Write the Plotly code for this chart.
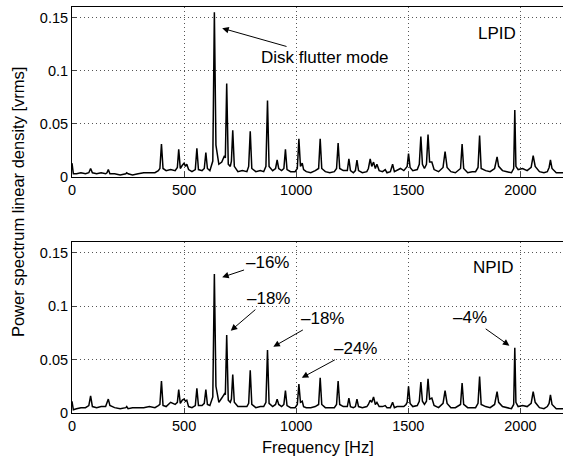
import plotly.graph_objs as go

# spectrum (Hz, vrms)
freq = [0, 6, 20, 40, 60, 75, 83, 91, 110, 130,
        150, 156, 162, 169, 190, 215, 240, 244, 250, 270,
        295, 320, 345, 370, 385, 392, 399, 406, 420, 440,
        460, 470, 476, 483, 492, 500, 506, 512, 520, 535,
        550, 557, 564, 580, 590, 597, 604, 615, 628, 635,
        642, 655, 668, 680, 684, 690, 697, 706, 711, 717,
        724, 740, 760, 780, 788, 795, 802, 820, 840, 855,
        865, 872, 879, 895, 908, 915, 922, 935, 945, 952,
        959, 975, 995, 1005, 1012, 1019, 1027, 1033, 1045, 1065,
        1085, 1100, 1107, 1114, 1130, 1150, 1170, 1180, 1187, 1194,
        1210, 1228, 1235, 1242, 1255, 1264, 1271, 1278, 1295, 1315,
        1322, 1330, 1337, 1345, 1353, 1360, 1370, 1385, 1397, 1405,
        1420, 1430, 1438, 1450, 1465, 1480, 1490, 1495, 1501, 1508,
        1520, 1540, 1549, 1556, 1563, 1572, 1581, 1588, 1595, 1605,
        1615, 1635, 1655, 1664, 1673, 1690, 1710, 1733, 1740, 1747,
        1765, 1785, 1800, 1811, 1818, 1825, 1845, 1865, 1885, 1896,
        1903, 1920, 1940, 1960, 1970, 1975, 1980, 1990, 2010, 2030,
        2048, 2057, 2066, 2085, 2105, 2120, 2128, 2134, 2141, 2160,
        2190]

lpid = [.013, .003, .003, .004, .003, .004, .008, .004, .003, .004,
        .003, .004, .007, .003, .003, .002, .003, .004, .003, .002,
        .003, .004, .004, .004, .006, .008, .031, .008, .006, .007,
        .006, .009, .026, .008, .011, .013, .010, .012, .007, .005,
        .007, .027, .007, .006, .008, .023, .008, .006, .015, .155,
        .030, .012, .014, .020, .018, .088, .012, .010, .015, .044,
        .010, .005, .006, .005, .010, .043, .008, .005, .006, .005,
        .010, .072, .010, .006, .008, .016, .008, .006, .008, .026,
        .007, .005, .005, .008, .036, .010, .013, .007, .005, .004,
        .006, .008, .036, .008, .005, .004, .005, .008, .032, .008,
        .006, .006, .017, .006, .004, .006, .016, .006, .004, .005,
        .008, .017, .010, .014, .008, .012, .006, .005, .007, .004,
        .005, .012, .005, .006, .008, .006, .009, .010, .022, .009,
        .006, .007, .012, .038, .012, .008, .012, .040, .014, .014,
        .007, .005, .009, .024, .009, .005, .004, .008, .031, .008,
        .004, .005, .005, .009, .039, .008, .006, .005, .008, .019,
        .010, .006, .005, .004, .008, .063, .010, .007, .008, .006,
        .009, .020, .010, .005, .004, .005, .009, .016, .008, .004,
        .004]

npid = [.011, .003, .004, .005, .005, .007, .016, .006, .005, .006,
        .006, .009, .013, .007, .005, .004, .005, .006, .004, .005,
        .005, .005, .006, .005, .007, .008, .030, .007, .006, .010,
        .008, .010, .022, .009, .012, .013, .011, .012, .006, .005,
        .007, .023, .007, .007, .009, .022, .008, .007, .015, .130,
        .025, .010, .014, .018, .017, .073, .012, .010, .013, .036,
        .010, .006, .006, .006, .009, .040, .008, .005, .006, .006,
        .010, .059, .009, .006, .008, .013, .008, .006, .008, .021,
        .007, .005, .005, .008, .027, .010, .011, .006, .005, .005,
        .006, .008, .033, .008, .005, .005, .005, .008, .030, .008,
        .006, .006, .014, .006, .005, .006, .013, .006, .005, .006,
        .008, .012, .010, .015, .008, .010, .006, .006, .007, .005,
        .005, .010, .005, .006, .006, .006, .008, .010, .025, .009,
        .006, .007, .011, .029, .011, .008, .011, .032, .013, .014,
        .007, .005, .009, .021, .009, .005, .005, .008, .028, .008,
        .005, .005, .005, .009, .034, .008, .006, .005, .008, .020,
        .010, .006, .005, .004, .008, .061, .010, .006, .007, .006,
        .009, .020, .010, .005, .004, .006, .009, .017, .008, .004,
        .004]

x_ticks = [0, 500, 1000, 1500, 2000]
y_ticks = [0, 0.05, 0.1, 0.15]
y_ticktext = ['0', '0.05', '0.1', '0.15']

# bottom-panel callouts: (label, peak f, peak v, text f, text v)
npid_notes = [
    ('\u201316%', 670, 0.127, 870, 0.141),
    ('\u201318%', 708, 0.077, 875, 0.107),
    ('\u201318%', 898, 0.062, 1116, 0.088),
    ('\u201324%', 1025, 0.033, 1263, 0.060),
    ('\u20134%', 1951, 0.063, 1776, 0.089),
]

FONT = 'Liberation Sans, Arial, sans-serif'

data = [
    go.Scatter(x=freq, y=lpid, mode='lines', xaxis='x', yaxis='y',
               line=dict(color='black', width=1.5), hoverinfo='none'),
    go.Scatter(x=freq, y=npid, mode='lines', xaxis='x2', yaxis='y2',
               line=dict(color='black', width=1.5), hoverinfo='none'),
]


def xax(anchor):
    return dict(range=[0, 2190], tickvals=x_ticks, ticks='inside', ticklen=5,
                showline=True, linecolor='black', linewidth=1, mirror=True,
                showgrid=True, gridcolor='#555', griddash='1px,3px', gridwidth=1,
                zeroline=False, anchor=anchor, automargin=False,
                tickfont=dict(size=14.5, color='black'))


def yax(anchor, domain):
    return dict(range=[0, 0.16], tickvals=y_ticks, ticktext=y_ticktext,
                ticks='inside', ticklen=5, domain=domain,
                showline=True, linecolor='black', linewidth=1, mirror=True,
                showgrid=True, gridcolor='#555', griddash='1px,3px', gridwidth=1,
                zeroline=False, anchor=anchor, automargin=False,
                tickfont=dict(size=14.5, color='black'))


annotations = [
    dict(text='LPID', x=1897, y=0.135, xref='x', yref='y', showarrow=False,
         font=dict(size=17)),
    dict(text='NPID', x=1880, y=0.136, xref='x2', yref='y2', showarrow=False,
         font=dict(size=17)),
    dict(text='Disk flutter mode', x=670, y=0.140, xref='x', yref='y',
         ax=1130, ay=0.1125, axref='x', ayref='y', showarrow=True,
         arrowhead=2, arrowsize=1.3, arrowwidth=1, arrowcolor='black',
         font=dict(size=17)),
    dict(text='Power spectrum linear density [vrms]', x=-0.11, y=0.522,
         xref='paper', yref='paper', xanchor='center', yanchor='middle',
         textangle=-90, showarrow=False, font=dict(size=16.5)),
    dict(text='Frequency [Hz]', x=0.5, y=-0.084, xref='paper', yref='paper',
         yanchor='middle', showarrow=False, font=dict(size=16.5)),
]
for label, fx, fy, tx, ty in npid_notes:
    annotations.append(dict(text=label, x=fx, y=fy, xref='x2', yref='y2',
                            ax=tx, ay=ty, axref='x2', ayref='y2', showarrow=True,
                            arrowhead=2, arrowsize=1.3, arrowwidth=1,
                            arrowcolor='black', font=dict(size=17)))

layout = go.Layout(
    width=563, height=461,
    margin=dict(l=72, r=0, t=7, b=48),
    paper_bgcolor='white', plot_bgcolor='white',
    font=dict(family=FONT, color='black', size=14),
    showlegend=False,
    xaxis=xax('y'),
    yaxis=yax('x', [0.5813, 1]),
    xaxis2=xax('y2'),
    yaxis2=yax('x2', [0, 0.4212]),
    annotations=annotations,
)

fig = go.Figure(data=data, layout=layout)
fig.write_html('out.html', config={'displayModeBar': False},
               post_script="document.body.style.margin='0';")
